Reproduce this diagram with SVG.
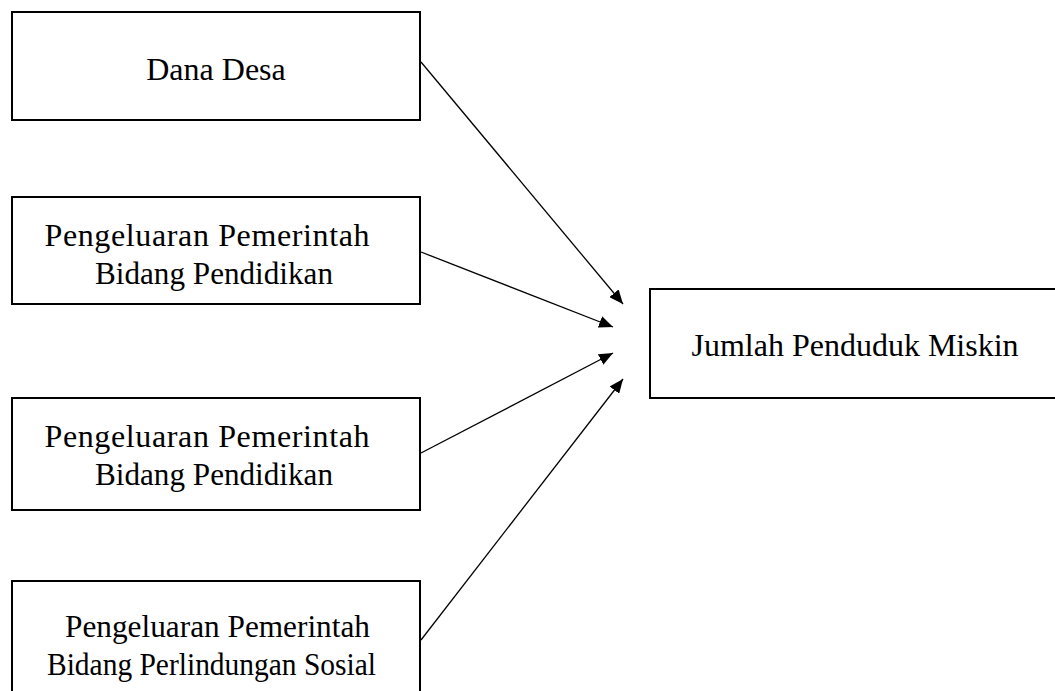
<svg xmlns="http://www.w3.org/2000/svg" width="1055" height="691" viewBox="0 0 1055 691">
<style>
.box{fill:#fff;stroke:#000;stroke-width:2}
.t{font-family:"Liberation Serif","Times New Roman",serif;font-size:32px;fill:#000;text-anchor:middle}
.c{stroke:#000;stroke-width:1.3;fill:none}
</style>
<defs>
<marker id="ah" markerUnits="userSpaceOnUse" markerWidth="14" markerHeight="12" refX="14" refY="6" orient="auto">
<path d="M0,0 L14,6 L0,12 z" fill="#000"/>
</marker>
</defs>
<rect width="1055" height="691" fill="#fff"/>
<g id="node-dana-desa">
<rect class="box" x="12" y="12" width="408" height="108"/>
<text class="t" x="216" y="80">Dana Desa</text>
</g>
<g id="node-pendidikan-1">
<rect class="box" x="12" y="197" width="408" height="107"/>
<text class="t" x="207" y="246" textLength="325" lengthAdjust="spacing">Pengeluaran Pemerintah</text>
<text class="t" x="214" y="284" textLength="238" lengthAdjust="spacingAndGlyphs">Bidang Pendidikan</text>
</g>
<g id="node-pendidikan-2">
<rect class="box" x="12" y="398" width="408" height="112"/>
<text class="t" x="207" y="447" textLength="325" lengthAdjust="spacing">Pengeluaran Pemerintah</text>
<text class="t" x="214" y="485" textLength="238" lengthAdjust="spacingAndGlyphs">Bidang Pendidikan</text>
</g>
<g id="node-perlindungan">
<rect class="box" x="12" y="581" width="408" height="130"/>
<text class="t" x="217.5" y="637" textLength="305" lengthAdjust="spacingAndGlyphs">Pengeluaran Pemerintah</text>
<text class="t" x="211.5" y="675" textLength="329" lengthAdjust="spacingAndGlyphs">Bidang Perlindungan Sosial</text>
</g>
<g id="node-jumlah">
<rect class="box" x="650" y="289" width="430" height="109"/>
<text class="t" x="855" y="356">Jumlah Penduduk Miskin</text>
</g>
<g id="connectors">
<line class="c" x1="421" y1="62" x2="623" y2="304" marker-end="url(#ah)"/>
<line class="c" x1="421" y1="252" x2="613" y2="327" marker-end="url(#ah)"/>
<line class="c" x1="421" y1="453" x2="613" y2="353" marker-end="url(#ah)"/>
<line class="c" x1="421" y1="640" x2="623" y2="379" marker-end="url(#ah)"/>
</g>
</svg>
